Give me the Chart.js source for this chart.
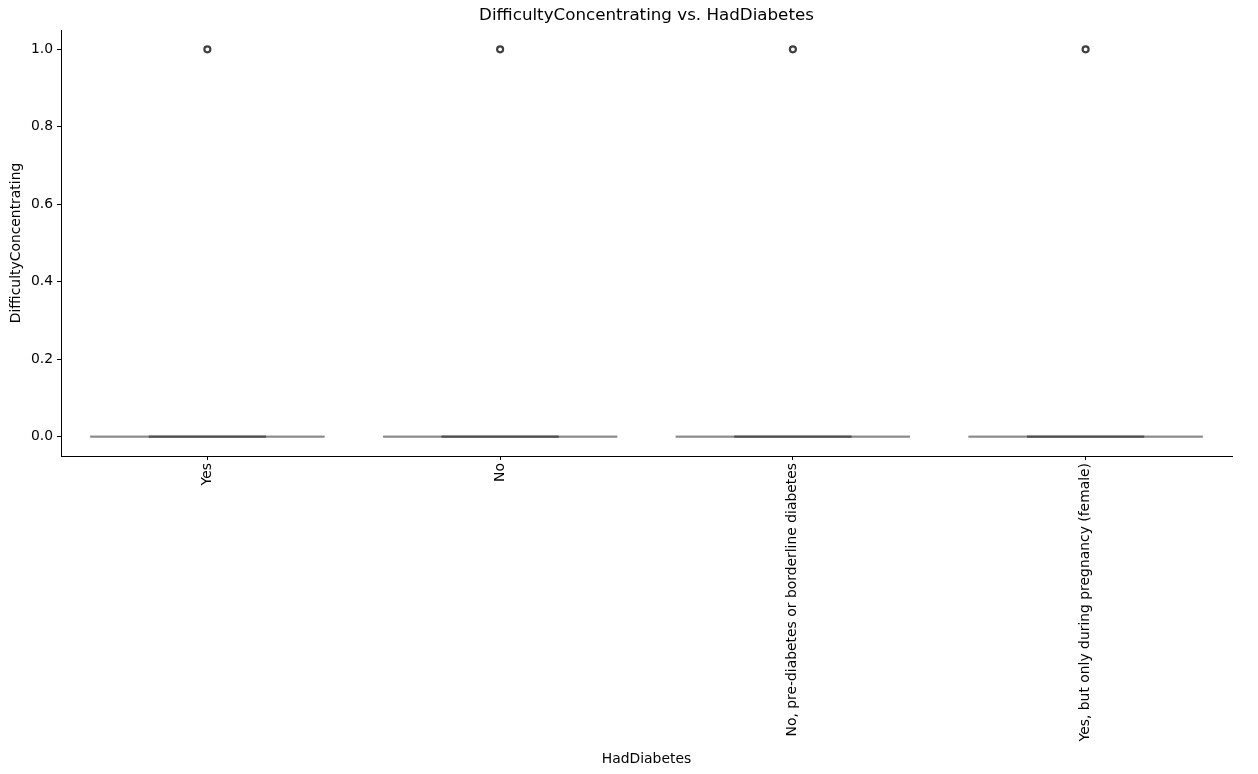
<!DOCTYPE html>
<html>
<head>
<meta charset="utf-8">
<script src="https://cdn.jsdelivr.net/npm/chart.js@4"></script>
<style>
html,body{margin:0;padding:0;background:#fff;}
#wrap{width:1258px;height:774px;}
</style>
</head>
<body>
<div id="wrap"><canvas id="c" width="1258" height="774"></canvas></div>
<script>
// ---- data ----
const chartTitle = 'DifficultyConcentrating vs. HadDiabetes';
const categories = ["Yes", "No", "No, pre-diabetes or borderline diabetes", "Yes, but only during pregnancy (female)"];
const q1 = [0, 0, 0, 0];
const median = [0, 0, 0, 0];
const q3 = [0, 0, 0, 0];
const whiskerLow = [0, 0, 0, 0];
const whiskerHigh = [0, 0, 0, 0];
const outliers = [[1], [1], [1], [1]];
const yTicks = [0.0, 0.2, 0.4, 0.6, 0.8, 1.0];

const BOX_HALF = 0.4, CAP_HALF = 0.2;
const FONT = "'DejaVu Sans', sans-serif";
const TICK_SIZE = 13.9, TITLE_SIZE = 16.7;

const datasets = [];
categories.forEach((c, i) => {
  // box outline
  datasets.push({
    type: 'line', label: 'box' + i, order: 3,
    data: [
      {x: i - BOX_HALF, y: q1[i]}, {x: i + BOX_HALF, y: q1[i]},
      {x: i + BOX_HALF, y: q3[i]}, {x: i - BOX_HALF, y: q3[i]}, {x: i - BOX_HALF, y: q1[i]}
    ],
    borderColor: '#8a8a8a', borderWidth: 1.8, pointRadius: 0, fill: false, tension: 0
  });
  // median
  datasets.push({
    type: 'line', label: 'median' + i, order: 2,
    data: [{x: i - BOX_HALF, y: median[i]}, {x: i + BOX_HALF, y: median[i]}],
    borderColor: '#8a8a8a', borderWidth: 1.8, pointRadius: 0, fill: false
  });
  // whiskers
  datasets.push({
    type: 'line', label: 'wl' + i, order: 1,
    data: [{x: i, y: q1[i]}, {x: i, y: whiskerLow[i]}],
    borderColor: '#505050', borderWidth: 1.8, pointRadius: 0, fill: false
  });
  datasets.push({
    type: 'line', label: 'wh' + i, order: 1,
    data: [{x: i, y: q3[i]}, {x: i, y: whiskerHigh[i]}],
    borderColor: '#505050', borderWidth: 1.8, pointRadius: 0, fill: false
  });
  // caps
  datasets.push({
    type: 'line', label: 'capL' + i, order: 1,
    data: [{x: i - CAP_HALF, y: whiskerLow[i]}, {x: i + CAP_HALF, y: whiskerLow[i]}],
    borderColor: '#505050', borderWidth: 1.8, pointRadius: 0, fill: false
  });
  datasets.push({
    type: 'line', label: 'capH' + i, order: 1,
    data: [{x: i - CAP_HALF, y: whiskerHigh[i]}, {x: i + CAP_HALF, y: whiskerHigh[i]}],
    borderColor: '#505050', borderWidth: 1.8, pointRadius: 0, fill: false
  });
  // outliers
  datasets.push({
    type: 'scatter', label: 'out' + i, order: 0,
    data: outliers[i].map(v => ({x: i, y: v})),
    pointRadius: 3, pointBorderWidth: 2.2, pointBorderColor: '#3f3f3f',
    pointBackgroundColor: '#ffffff', showLine: false
  });
});

// title centred over the plot area (as matplotlib does)
const axesTitle = {
  id: 'axesTitle',
  afterDraw(chart) {
    const ctx = chart.ctx, a = chart.chartArea;
    ctx.save();
    ctx.font = TITLE_SIZE + 'px ' + FONT;
    ctx.fillStyle = '#000';
    ctx.textAlign = 'center';
    ctx.textBaseline = 'middle';
    ctx.fillText(chartTitle, (a.left + a.right) / 2, 16);
    ctx.restore();
  }
};

new Chart(document.getElementById('c'), {
  type: 'scatter',
  data: { datasets },
  plugins: [axesTitle],
  options: {
    responsive: false,
    animation: false,
    events: [],
    layout: { padding: { left: 0, right: 26, top: 30, bottom: 2 } },
    plugins: {
      legend: { display: false },
      tooltip: { enabled: false },
      title: { display: false }
    },
    scales: {
      x: {
        type: 'linear',
        min: -0.5, max: categories.length - 0.5,
        afterBuildTicks: (s) => { s.ticks = categories.map((c, i) => ({ value: i })); },
        afterFit: (s) => { s.height = 316; },
        ticks: {
          autoSkip: false, minRotation: 90, maxRotation: 90,
          color: '#000', padding: 3,
          font: { family: FONT, size: TICK_SIZE },
          callback: (v) => categories[v]
        },
        grid: { display: true, drawOnChartArea: false, drawTicks: true, tickLength: 4, color: '#000', tickWidth: 1 },
        border: { display: true, color: '#000', width: 1 },
        title: {
          display: true, text: 'HadDiabetes', color: '#000',
          font: { family: FONT, size: TICK_SIZE }, padding: { top: 4, bottom: 4 }
        }
      },
      y: {
        type: 'linear',
        min: -0.05, max: 1.05,
        afterBuildTicks: (s) => { s.ticks = yTicks.map(v => ({ value: v })); },
        afterFit: (s) => { s.width = 61; },
        ticks: {
          color: '#000', padding: 4,
          font: { family: FONT, size: TICK_SIZE },
          callback: (v) => Number(v).toFixed(1)
        },
        grid: { display: true, drawOnChartArea: false, drawTicks: true, tickLength: 4, color: '#000', tickWidth: 1 },
        border: { display: true, color: '#000', width: 1 },
        title: {
          display: true, text: 'DifficultyConcentrating', color: '#000',
          font: { family: FONT, size: TICK_SIZE }, padding: { top: 8, bottom: 0 }
        }
      }
    }
  }
});
</script>
</body>
</html>
